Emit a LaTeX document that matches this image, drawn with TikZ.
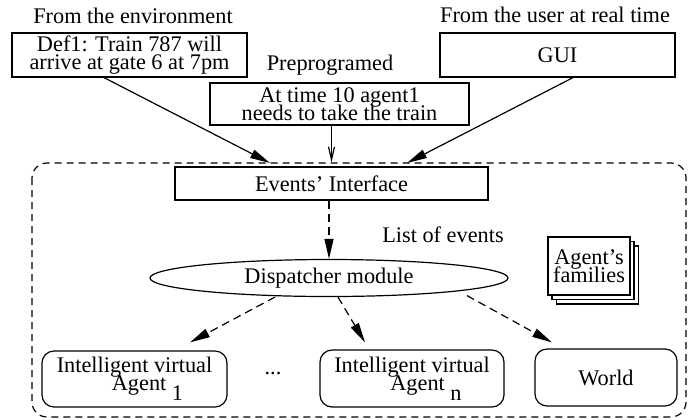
\documentclass[tikz,border=0pt]{standalone}
\usepackage{fontspec}
\setmainfont{Liberation Serif}
\usetikzlibrary{shapes.geometric,arrows.meta}
\newcommand{\figfont}{\fontsize{11.15}{9}\selectfont\lineskiplimit=-20pt}

\tikzset{
  box/.style={draw, line width=0.6pt, inner sep=0pt, align=center},
  agentbox/.style={box, rounded corners=6pt},
  flow/.style={line width=0.6pt, -{Triangle[length=10pt,width=4.5pt]}},
  dflow/.style={flow, dash pattern=on 4pt off 2.5pt},
}

\begin{document}
\begin{tikzpicture}[x=0.5pt,y=-0.5pt,font=\figfont]
	\useasboundingbox (0,0) rectangle (695,419);

	%Entradas
	\node (envlabel) at (133,16) {From the environment};
	\node[box, minimum width=117.5pt, minimum height=22pt] (def) at (129.5,55) {Def1: Train 787 will\\arrive at gate 6 at 7pm};
	\node (prelabel) at (330,65) {Preprogramed};
	\node[box, minimum width=129.5pt, minimum height=21pt] (pre) at (339.5,104) {At time 10 agent1\\needs to take the train};
	\node (userlabel) at (555,15) {From the user at real time};
	\node[box, minimum width=117.5pt, minimum height=22pt] (gui) at (557.5,55) {GUI};

	%Contenedor
	\draw[line width=0.6pt, dash pattern=on 3.5pt off 2.5pt, rounded corners=7.5pt] (32,163) rectangle (686,417);
	\coordinate (envin) at (270,163);
	\coordinate (guiin) at (407,163);

	\node[box, minimum width=156.5pt, minimum height=16.5pt] (events) at (331.5,183.5) {Events’ Interface};
	\node[draw, ellipse, line width=0.6pt, inner sep=0pt, minimum width=179pt, minimum height=18.5pt] (disp) at (329,278) {Dispatcher module};
	\node (listlabel) at (443,235) {List of events};

	%Familias
	\foreach \dx/\dy in {8.5/9, 4/4.5}
		\draw[line width=0.6pt, fill=white] (548+\dx,237+\dy) rectangle (630+\dx,295+\dy);
	\node[box, fill=white, minimum width=41pt, minimum height=29pt] (fam) at (589,266) {Agent’s\\families};

	%Agentes
	\node[agentbox, minimum width=92.5pt, minimum height=28pt] (agent1) at (134.5,379) {Intelligent virtual\\\hspace*{13pt}Agent \raisebox{-5pt}{1}};
	\node (dots) at (273,373) {...};
	\node[agentbox, minimum width=92pt, minimum height=28.5pt] (agentn) at (412,378.5) {Intelligent virtual\\\hspace*{14pt}Agent \raisebox{-5pt}{n}};
	\node[agentbox, minimum width=71pt, minimum height=28.5pt] (world) at (606,377.5) {World};

	%Flechas
	\draw[flow] ([xshift=-12.75pt]def.south) -- (envin);
	\draw[line width=0.6pt, -{Straight Barb[length=6.5pt,width=3pt]}] (pre.south -| events.north) -- ([yshift=2pt]events.north);
	\draw[flow] ([xshift=7.75pt]gui.south) -- (guiin);
	\draw[dflow] (events.south -| disp.north) -- (disp.north);
	\draw[dflow] ([xshift=-27pt]disp.south) -- ([xshift=27.75pt,yshift=4pt]agent1.north);
	\draw[dflow] ([xshift=4.5pt]disp.south) -- ([xshift=-23.5pt,yshift=3.5pt]agentn.north);
	\draw[dflow] ([xshift=69pt,yshift=0.75pt]disp.south) -- ([xshift=-27pt,yshift=3pt]world.north);
\end{tikzpicture}
\end{document}
